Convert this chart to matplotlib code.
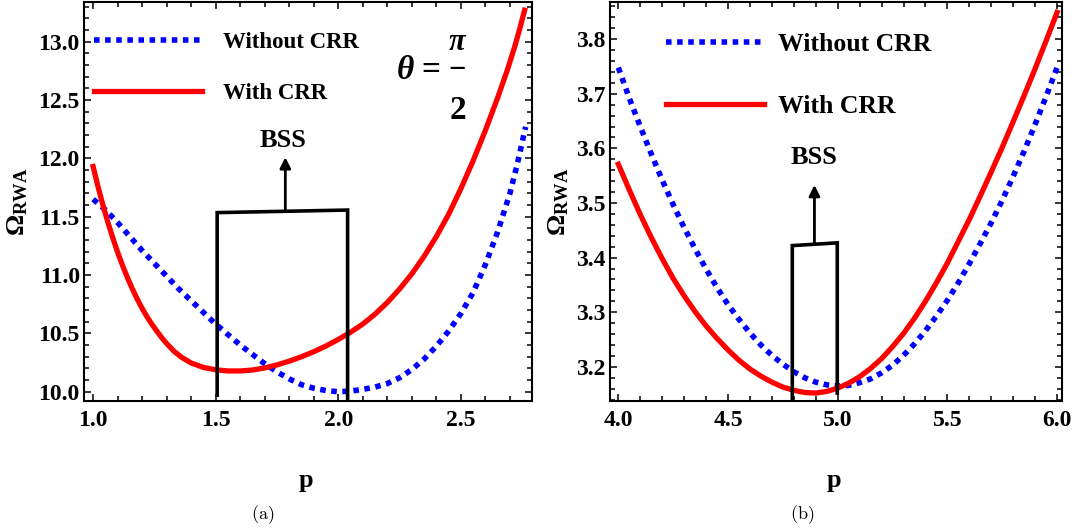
import matplotlib
matplotlib.use('Agg')
import matplotlib.pyplot as plt
from matplotlib.ticker import MultipleLocator

plt.rcParams['font.family'] = ['Liberation Serif', 'DejaVu Serif']
plt.rcParams['font.weight'] = 'bold'
plt.rcParams['mathtext.fontset'] = 'custom'
plt.rcParams['mathtext.rm'] = 'Liberation Serif:bold'
plt.rcParams['mathtext.it'] = 'Liberation Serif:italic:bold'
plt.rcParams['mathtext.bf'] = 'Liberation Serif:bold'

# ---- panel (a): theta = pi/2 ----
p_a_red = [1.00, 1.02, 1.04, 1.06, 1.08, 1.10, 1.12, 1.14, 1.16, 1.18, 1.20, 1.22,
           1.24, 1.26, 1.28, 1.30, 1.33, 1.36, 1.40, 1.45, 1.50, 1.55, 1.60, 1.65,
           1.70, 1.75, 1.80, 1.85, 1.90, 1.95, 2.00, 2.05, 2.10, 2.15, 2.20, 2.25,
           2.30, 2.35, 2.40, 2.45, 2.50, 2.55, 2.60, 2.65, 2.69, 2.72, 2.74, 2.76]
omega_a_red = [11.93, 11.758, 11.60, 11.454, 11.32, 11.196, 11.082, 10.978, 10.882,
               10.794, 10.714, 10.642, 10.577, 10.519, 10.463, 10.413, 10.347, 10.296,
               10.246, 10.208, 10.188, 10.178, 10.178, 10.186, 10.204, 10.23, 10.262,
               10.30, 10.343, 10.392, 10.448, 10.51, 10.58, 10.665, 10.765, 10.88,
               11.01, 11.16, 11.33, 11.52, 11.74, 11.98, 12.24, 12.52, 12.76, 12.96,
               13.11, 13.27]
p_a_blue = [1.0, 1.05, 1.10, 1.15, 1.20, 1.25, 1.30, 1.35, 1.40, 1.45, 1.50, 1.55,
            1.60, 1.65, 1.70, 1.75, 1.80, 1.85, 1.90, 1.95, 2.00, 2.05, 2.10, 2.15,
            2.20, 2.25, 2.30, 2.35, 2.40, 2.45, 2.50, 2.55, 2.60, 2.65, 2.70, 2.73,
            2.764]
omega_a_blue = [11.65, 11.56, 11.45, 11.33, 11.21, 11.10, 10.99, 10.88, 10.78, 10.68,
                10.58, 10.49, 10.40, 10.32, 10.24, 10.17, 10.11, 10.06, 10.03, 10.01,
                10.00, 10.005, 10.02, 10.04, 10.07, 10.12, 10.19, 10.28, 10.39, 10.52,
                10.67, 10.85, 11.09, 11.37, 11.70, 11.95, 12.27]

# BSS marker (a)
bss_a_x = [1.506, 1.506, 2.038, 2.038]
bss_a_y = [9.97, 11.535, 11.557, 9.92]
bss_a_arrow = (1.784, 11.545, 12.01)
bss_a_label = (1.773, 12.15)

# ---- panel (b) ----
p_b_red = [4.00, 4.05, 4.10, 4.15, 4.20, 4.25, 4.30, 4.35, 4.40, 4.45, 4.50, 4.55,
           4.60, 4.65, 4.70, 4.75, 4.80, 4.85, 4.90, 4.95, 5.00, 5.05, 5.10, 5.15,
           5.20, 5.25, 5.30, 5.35, 5.40, 5.45, 5.50, 5.55, 5.60, 5.65, 5.70, 5.75,
           5.80, 5.85, 5.90, 5.95, 6.00]
omega_b_red = [3.571, 3.524, 3.479, 3.437, 3.398, 3.362, 3.330, 3.301, 3.275, 3.252,
               3.231, 3.212, 3.196, 3.183, 3.172, 3.163, 3.157, 3.153, 3.152, 3.155,
               3.161, 3.170, 3.182, 3.197, 3.215, 3.237, 3.261, 3.289, 3.320, 3.354,
               3.390, 3.430, 3.470, 3.513, 3.557, 3.602, 3.649, 3.697, 3.746, 3.797,
               3.849]
p_b_blue = [4.00, 4.05, 4.10, 4.15, 4.20, 4.25, 4.30, 4.35, 4.40, 4.45, 4.50, 4.55,
            4.60, 4.65, 4.70, 4.75, 4.80, 4.85, 4.90, 4.95, 5.00, 5.05, 5.10, 5.15,
            5.20, 5.25, 5.30, 5.35, 5.40, 5.45, 5.50, 5.55, 5.60, 5.65, 5.70, 5.75,
            5.80, 5.85, 5.90, 5.95, 6.00]
omega_b_blue = [3.748, 3.692, 3.640, 3.590, 3.542, 3.497, 3.455, 3.416, 3.379, 3.345,
                3.314, 3.287, 3.262, 3.240, 3.221, 3.205, 3.191, 3.180, 3.172, 3.167,
                3.165, 3.166, 3.171, 3.178, 3.189, 3.203, 3.221, 3.242, 3.266, 3.293,
                3.322, 3.354, 3.389, 3.426, 3.464, 3.505, 3.549, 3.595, 3.644, 3.695,
                3.748]

bss_b_x = [4.793, 4.793, 4.998, 4.998]
bss_b_y = [3.138, 3.422, 3.427, 3.152]
bss_b_arrow = (4.894, 3.425, 3.533)
bss_b_label = (4.894, 3.584)

labels = ['Without CRR', 'With CRR']


def draw_panel(ax, p_blue, om_blue, p_red, om_red, box_x, box_y, arrow, bss_pos,
               xlim, ylim, xmaj, xmin, ymaj, ymin):
    ax.plot(p_blue, om_blue, color='#0000ff', lw=4.0, linestyle=(0, (1.0, 1.0)),
            label=labels[0])
    ax.plot(p_red, om_red, color='#ff0000', lw=3.8, label=labels[1])
    ax.plot(box_x, box_y, color='black', lw=2.6, solid_joinstyle='miter')
    ax.annotate('', xy=(arrow[0], arrow[2]), xytext=(arrow[0], arrow[1]),
                arrowprops=dict(arrowstyle='-|>', color='black', lw=2,
                                mutation_scale=16, shrinkA=0, shrinkB=0))
    ax.text(bss_pos[0], bss_pos[1], 'BSS', fontsize=19, fontweight='bold',
            ha='center', va='center')
    ax.set_xlim(*xlim)
    ax.set_ylim(*ylim)
    ax.xaxis.set_major_locator(MultipleLocator(xmaj))
    ax.xaxis.set_minor_locator(MultipleLocator(xmin))
    ax.yaxis.set_major_locator(MultipleLocator(ymaj))
    ax.yaxis.set_minor_locator(MultipleLocator(ymin))
    ax.tick_params(which='both', direction='in', top=True, right=True, width=1.1,
                   labelsize=17)
    ax.tick_params(which='major', length=5)
    ax.tick_params(which='minor', length=3.5)
    ax.tick_params(axis='x', pad=6.5)
    ax.tick_params(axis='y', pad=3)
    for s in ax.spines.values():
        s.set_linewidth(1.5)
    ax.set_xlabel('p', fontsize=19, fontweight='bold', va='center')
    ax.set_ylabel(r'$\mathbf{\Omega_{RWA}}$', fontsize=19, va='center')


fig = plt.figure(figsize=(10.76, 5.32), dpi=100)
ax_a = fig.add_axes([0.0781, 0.2468, 0.4163, 0.7494])
ax_b = fig.add_axes([0.5669, 0.2468, 0.4198, 0.7494])

draw_panel(ax_a, p_a_blue, omega_a_blue, p_a_red, omega_a_red, bss_a_x, bss_a_y,
           bss_a_arrow, bss_a_label, (0.963, 2.79), (9.923, 13.34), 0.5, 0.1, 0.5, 0.1)
draw_panel(ax_b, p_b_blue, omega_b_blue, p_b_red, omega_b_red, bss_b_x, bss_b_y,
           bss_b_arrow, bss_b_label, (3.962, 6.021), (3.138, 3.868), 0.5, 0.1, 0.1, 0.02)

ax_a.xaxis.set_label_coords(0.495, -0.2)
ax_a.yaxis.set_label_coords(-0.147, 0.5)
ax_b.xaxis.set_label_coords(0.495, -0.2)
ax_b.yaxis.set_label_coords(-0.114, 0.5)

ax_a.legend(loc='center left', bbox_to_anchor=(0.022, 0.835), frameon=False,
            borderpad=0, borderaxespad=0, handlelength=4.7, handletextpad=0.95,
            labelspacing=1.3, prop=dict(family='Liberation Serif', weight='bold', size=16.5))
ax_b.legend(loc='center left', bbox_to_anchor=(0.125, 0.816), frameon=False,
            borderpad=0, borderaxespad=0, handlelength=3.8, handletextpad=0.55,
            labelspacing=1.52, prop=dict(family='Liberation Serif', weight='bold', size=18.5))

# theta = pi/2 label in panel (a)
ax_a.text(2.273, 12.75, r'$\theta$', fontsize=24, ha='center', va='center')
ax_a.text(2.377, 12.75, '=', fontsize=24, fontweight='bold', ha='center', va='center')
ax_a.text(2.486, 12.99, r'$\pi$', fontsize=22, ha='center', va='center')
ax_a.text(2.486, 12.75, '\u2212', fontsize=22, fontweight='bold', ha='center', va='center')
ax_a.text(2.486, 12.41, '2', fontsize=24, fontweight='bold', ha='center', va='center')

fig.text(263 / 1076, 1 - 515 / 532, r'$(\mathrm{a})$', math_fontfamily='cm',
         fontsize=13, ha='center', va='center')
fig.text(802 / 1076, 1 - 515 / 532, r'$(\mathrm{b})$', math_fontfamily='cm',
         fontsize=13, ha='center', va='center')

fig.savefig('out.png', dpi=100)
